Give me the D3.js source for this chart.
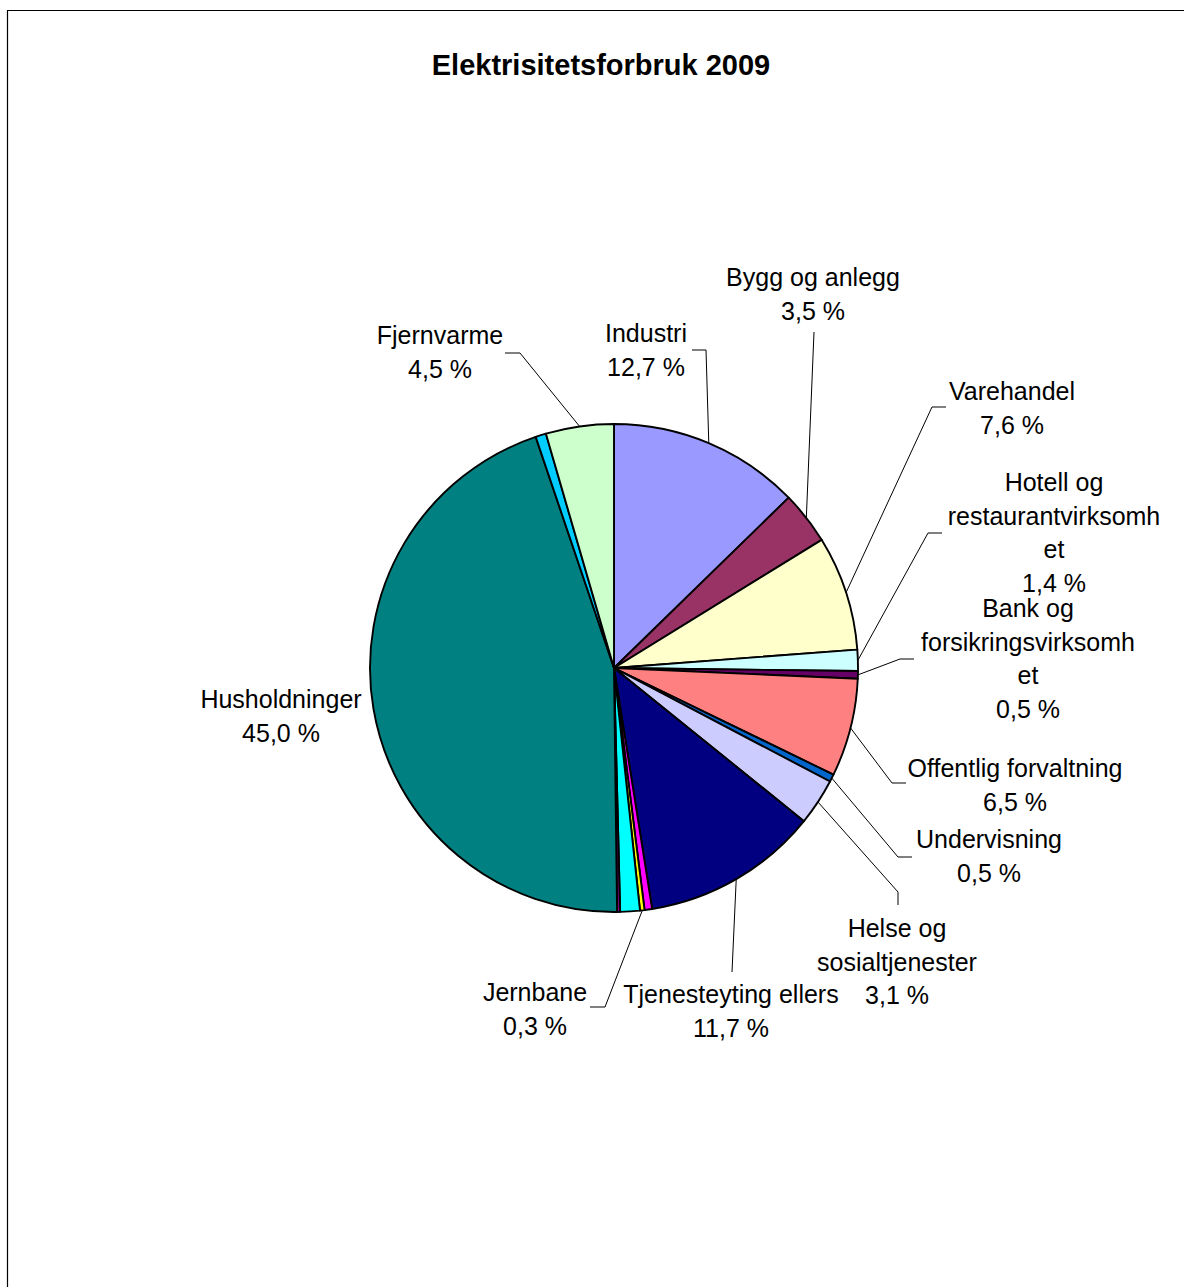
<!DOCTYPE html>
<html>
<head>
<meta charset="utf-8">
<script src="https://cdn.jsdelivr.net/npm/d3@7"></script>
<style>
  html, body { margin: 0; padding: 0; background: #fff; overflow: hidden; }
  svg { display: block; }
  text { font-family: Arial, "Liberation Sans", sans-serif; fill: #000; }
</style>
</head>
<body>
<svg id="chart" width="1184" height="1287"></svg>
<script>
// Electricity consumption 2009 by sector, in percent (clockwise from 12 o'clock)
const categories = [
  "Industri", "Bygg og anlegg", "Varehandel", "Hotell og restaurantvirksomhet",
  "Bank og forsikringsvirksomhet", "Offentlig forvaltning", "Undervisning",
  "Helse og sosialtjenester", "Tjenesteyting ellers", null, "Jernbane", null, null,
  "Husholdninger", null, "Fjernvarme"
];
const values = [12.7, 3.5, 7.6, 1.4, 0.5, 6.5, 0.5, 3.1, 11.7, 0.5, 0.3, 1.3, 0.2, 45.0, 0.7, 4.5];
const colors = [
  "#9999FF", "#993366", "#FFFFCC", "#CCFFFF", "#660066", "#FF8080", "#0066CC",
  "#CCCCFF", "#000080", "#FF00FF", "#FFFF00", "#00FFFF", "#800080", "#008080",
  "#00CCFF", "#CCFFCC"
];
// Wrapped label text for each labelled category
const labelLines = {
  "Hotell og restaurantvirksomhet": ["Hotell og", "restaurantvirksomh", "et"],
  "Bank og forsikringsvirksomhet": ["Bank og", "forsikringsvirksomh", "et"],
  "Helse og sosialtjenester": ["Helse og", "sosialtjenester"]
};

// Label placement: text centre x, first baseline y, leader start points
const labelLayout = {
  "Industri":                       { x: 646,  y: 342, lead: [[692, 350], [706, 350]] },
  "Bygg og anlegg":                 { x: 813,  y: 286, lead: [[814, 332]] },
  "Varehandel":                     { x: 1012, y: 400, lead: [[946, 407], [932, 407]] },
  "Hotell og restaurantvirksomhet": { x: 1054, y: 491, lead: [[942, 533], [928, 533]] },
  "Bank og forsikringsvirksomhet":  { x: 1028, y: 617, lead: [[914, 659], [900, 659]] },
  "Offentlig forvaltning":          { x: 1015, y: 777, lead: [[906, 783], [892, 783]] },
  "Undervisning":                   { x: 989,  y: 848, lead: [[912, 857], [898, 857]] },
  "Helse og sosialtjenester":       { x: 897,  y: 937, lead: [[898, 905], [898, 892]] },
  "Tjenesteyting ellers":           { x: 731,  y: 1003, lead: [[732, 972]] },
  "Jernbane":                       { x: 535,  y: 1001, lead: [[590, 1007], [605, 1007]] },
  "Husholdninger":                  { x: 281,  y: 708, lead: null },
  "Fjernvarme":                     { x: 440,  y: 344, lead: [[505, 353], [520, 353]] }
};

const svg = d3.select("#chart");
const cx = 614, cy = 668, r = 244;
const lineH = 33.5;

// Chart frame (open to the right and bottom)
svg.append("path")
  .attr("d", "M1184,10.5 H7.5 V1287")
  .attr("fill", "none").attr("stroke", "#000").attr("stroke-width", 1.2);

// Title
svg.append("text")
  .attr("x", 601).attr("y", 75)
  .attr("text-anchor", "middle")
  .attr("font-size", 29).attr("font-weight", "bold")
  .text("Elektrisitetsforbruk 2009");

const data = values.map((v, i) => ({ name: categories[i], value: v, color: colors[i] }));
const pie = d3.pie().sort(null).value(d => d.value).startAngle(0).endAngle(2 * Math.PI);
const arcs = pie(data);
const arc = d3.arc().innerRadius(0).outerRadius(r);

const g = svg.append("g").attr("transform", `translate(${cx},${cy})`);
g.selectAll("path.slice")
  .data(arcs)
  .join("path")
  .attr("class", "slice")
  .attr("d", arc)
  .attr("fill", d => d.data.color)
  .attr("stroke", "#000")
  .attr("stroke-width", 1.9)
  .attr("stroke-linejoin", "round");

const fmt = v => d3.format(".1f")(v).replace(".", ",") + " %";

// Leader lines and labels
const labelled = arcs.filter(d => d.data.name && labelLayout[d.data.name]);
labelled.forEach(d => {
  const L = labelLayout[d.data.name];
  if (L.lead) {
    const mid = (d.startAngle + d.endAngle) / 2;
    const end = [cx + r * Math.sin(mid), cy - r * Math.cos(mid)];
    const pts = L.lead.concat([end]);
    svg.append("path")
      .attr("d", d3.line()(pts))
      .attr("fill", "none")
      .attr("stroke", "#000")
      .attr("stroke-width", 1);
  }
  const lines = (labelLines[d.data.name] || [d.data.name]).concat([fmt(d.data.value)]);
  const t = svg.append("text")
    .attr("text-anchor", "middle")
    .attr("font-size", 25);
  lines.forEach((s, i) => {
    t.append("tspan").attr("x", L.x).attr("y", L.y + i * lineH).text(s);
  });
});
</script>
</body>
</html>
